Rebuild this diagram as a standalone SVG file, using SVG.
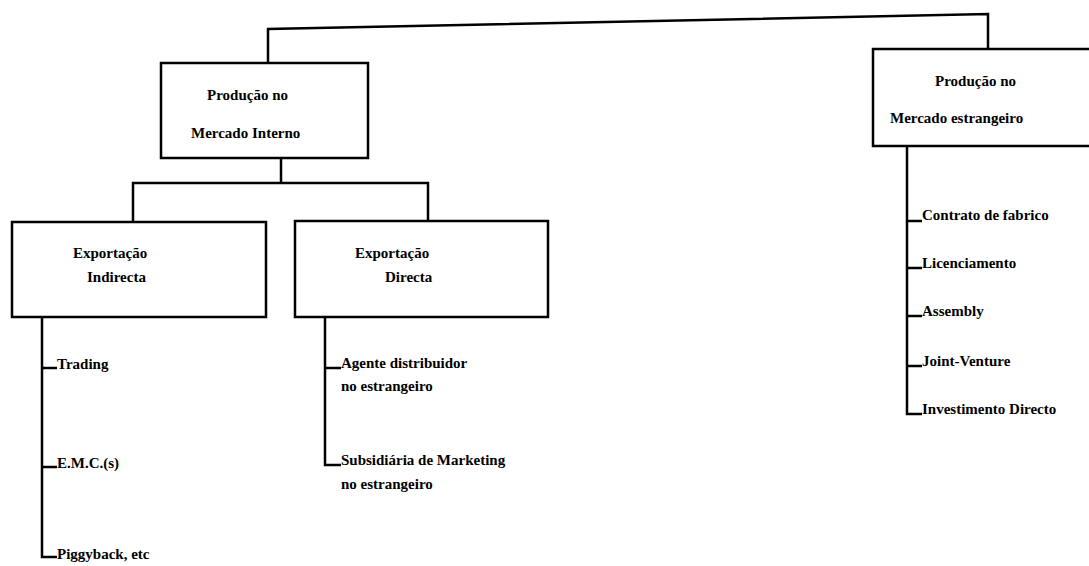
<svg xmlns="http://www.w3.org/2000/svg" width="1089" height="566" viewBox="0 0 1089 566">
<style>
.box{fill:#fff;stroke:#000;stroke-width:2.5}
.ln{fill:none;stroke:#000;stroke-width:2.5;stroke-linejoin:miter}
text{font-family:"Liberation Serif","Times New Roman",serif;font-size:15px;font-weight:bold;fill:#000}
</style>
<rect width="1089" height="566" fill="#fff"/>
<g id="connectors">
<polyline class="ln" points="268,63 268,29 988,14 988,50"/>
<polyline class="ln" points="281,158 281,183"/>
<polyline class="ln" points="133,222 133,183 428,183 428,221"/>
<polyline class="ln" points="42,317 42,557 57,557"/>
<line class="ln" x1="42" y1="368" x2="57" y2="368"/>
<line class="ln" x1="42" y1="467" x2="57" y2="467"/>
<polyline class="ln" points="325,317 325,465 341,465"/>
<line class="ln" x1="325" y1="368" x2="341" y2="368"/>
<polyline class="ln" points="907,146 907,414 922,414"/>
<line class="ln" x1="907" y1="221" x2="922" y2="221"/>
<line class="ln" x1="907" y1="268" x2="922" y2="268"/>
<line class="ln" x1="907" y1="316" x2="922" y2="316"/>
<line class="ln" x1="907" y1="366" x2="922" y2="366"/>
</g>
<g id="n-interno">
<rect class="box" x="161" y="63" width="207" height="95"/>
<text x="207" y="100">Produção no</text>
<text x="191" y="138">Mercado Interno</text>
</g>
<g id="n-estrangeiro">
<rect class="box" x="873" y="49" width="230" height="97"/>
<text x="935" y="86">Produção no</text>
<text x="890" y="123">Mercado estrangeiro</text>
</g>
<g id="n-indirecta">
<rect class="box" x="12" y="222" width="254" height="95"/>
<text x="73" y="258">Exportação</text>
<text x="87" y="282">Indirecta</text>
</g>
<g id="n-directa">
<rect class="box" x="295" y="221" width="253" height="96"/>
<text x="355" y="258">Exportação</text>
<text x="385" y="282">Directa</text>
</g>
<g id="items-indirecta">
<text x="57" y="369">Trading</text>
<text x="57" y="468">E.M.C.(s)</text>
<text x="57" y="559">Piggyback, etc</text>
</g>
<g id="items-directa">
<text x="341" y="368">Agente distribuidor</text>
<text x="341" y="391">no estrangeiro</text>
<text x="341" y="465">Subsidiária de Marketing</text>
<text x="341" y="489">no estrangeiro</text>
</g>
<g id="items-estrangeiro">
<text x="922" y="220">Contrato de fabrico</text>
<text x="922" y="268">Licenciamento</text>
<text x="922" y="316">Assembly</text>
<text x="922" y="366">Joint-Venture</text>
<text x="922" y="414">Investimento Directo</text>
</g>
</svg>
